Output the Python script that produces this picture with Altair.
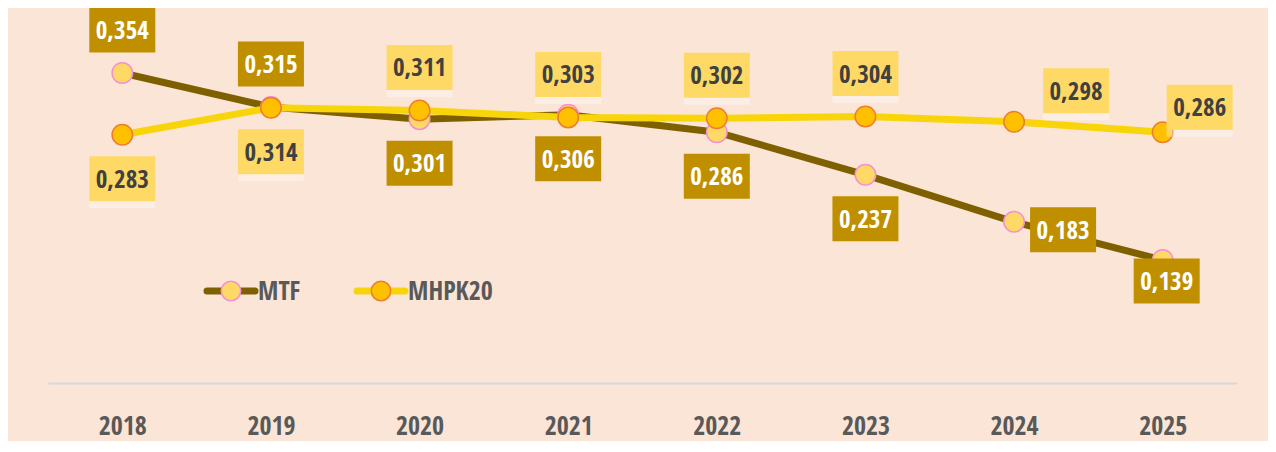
import altair as alt
import pandas as pd

years = ["2018", "2019", "2020", "2021", "2022", "2023", "2024", "2025"]
mtf = [0.354, 0.315, 0.301, 0.306, 0.286, 0.237, 0.183, 0.139]
mhpk20 = [0.283, 0.314, 0.311, 0.303, 0.302, 0.304, 0.298, 0.286]
mtf_place = ["above", "above", "below", "below", "below", "below", "right", "below_near"]
mhpk_place = ["below", "below", "above", "above", "above", "above", "upper_right", "upper_right_near"]
series_names = ["MTF", "MHPK20"]

# label placement offsets (style, px)
PLACE = {
    "above": (0, -43),
    "below": (0, 44),
    "right": (49, 8),
    "below_near": (4, 21),
    "upper_right": (62, -31),
    "upper_right_near": (37, -25),
}

STYLE = {
    "MTF": dict(line="#7F6000", mfill="#FFD966", mstroke="#F48FD4",
                box="#BF8F00", text="#FFFFFF", shadow=False),
    "MHPK20": dict(line="#F8D50A", mfill="#FFC000", mstroke="#ED7D31",
                   box="#FFD966", text="#404040", shadow=True),
}

FONT = "'Open Sans Condensed', 'Open Sans Condensed Bold', Roboto, sans-serif"
BOX_W, BOX_H = 66, 45
box_path = "M-1,-{h}L1,-{h}L1,{h}L-1,{h}Z".format(h=round(BOX_H / BOX_W, 4))

rows = []
for name, vals, places in [("MTF", mtf, mtf_place), ("MHPK20", mhpk20, mhpk_place)]:
    for y, v, p in zip(years, vals, places):
        rows.append({"series": name, "year": y, "value": v, "place": p,
                     "label": f"{v:.3f}".replace(".", ",")})
df = pd.DataFrame(rows)

x_enc = alt.X("year:O", scale=alt.Scale(type="point", padding=0.5),
              axis=alt.Axis(title=None, labelAngle=0, ticks=False, grid=False,
                            domainColor="#D9D9D9", domainWidth=2, offset=2,
                            labelFont=FONT, labelFontSize=26, labelFontWeight="bold",
                            labelColor="#595959", labelPadding=30))
y_enc = alt.Y("value:Q", scale=alt.Scale(domain=[0, 0.4]), axis=None)

base = alt.Chart(df).encode(x=x_enc, y=y_enc)

layers = []
for name in series_names:
    st = STYLE[name]
    sub = base.transform_filter(alt.datum.series == name)
    layers.append(sub.mark_line(color=st["line"], strokeWidth=7, strokeCap="round"))
    layers.append(sub.mark_point(shape="circle", size=420, filled=True, fill=st["mfill"],
                                 stroke=st["mstroke"], strokeWidth=1.5, opacity=1))

for name in series_names:
    st = STYLE[name]
    for place, (dx, dy) in PLACE.items():
        sub = base.transform_filter(
            (alt.datum.series == name) & (alt.datum.place == place))
        if st["shadow"]:
            layers.append(sub.mark_point(shape=box_path, size=BOX_W * BOX_W, filled=True,
                                         fill="#FFFFFF", opacity=0.35, strokeWidth=0,
                                         xOffset=dx, yOffset=dy + 7))
        layers.append(sub.mark_point(shape=box_path, size=BOX_W * BOX_W, filled=True,
                                     fill=st["box"], opacity=1, strokeWidth=0,
                                     xOffset=dx, yOffset=dy))
        layers.append(sub.mark_text(font=FONT, fontSize=25, fontWeight="bold",
                                    color=st["text"], align="center", baseline="middle",
                                    dx=dx, dy=dy + 1).encode(text="label:N"))

# manual legend
leg = pd.DataFrame({"series": series_names})
legend_x = {"MTF": 159, "MHPK20": 309}
legend_y = 258
for name in series_names:
    st = STYLE[name]
    x0 = legend_x[name]
    one = alt.Chart(leg).transform_filter(alt.datum.series == name)
    layers.append(one.mark_rule(color=st["line"], strokeWidth=7, strokeCap="round").encode(
        x=alt.value(x0), x2=alt.value(x0 + 48), y=alt.value(legend_y)))
    layers.append(one.mark_point(shape="circle", size=380, filled=True, fill=st["mfill"],
                                 stroke=st["mstroke"], strokeWidth=1.5, opacity=1).encode(
        x=alt.value(x0 + 24), y=alt.value(legend_y)))
    layers.append(one.mark_text(font=FONT, fontSize=26, fontWeight="bold", color="#595959",
                                align="left", baseline="middle").encode(
        x=alt.value(x0 + 51), y=alt.value(legend_y + 1), text="series:N"))

chart = alt.layer(*layers).properties(
    width=1189, height=348,
    autosize=alt.AutoSizeParams(type="none"),
    padding={"left": 40, "top": 25, "right": 31, "bottom": 60},
    background="#FBE5D6",
).configure_view(stroke=None)

chart.save("out.html", embed_options={"renderer": "svg", "actions": False})
